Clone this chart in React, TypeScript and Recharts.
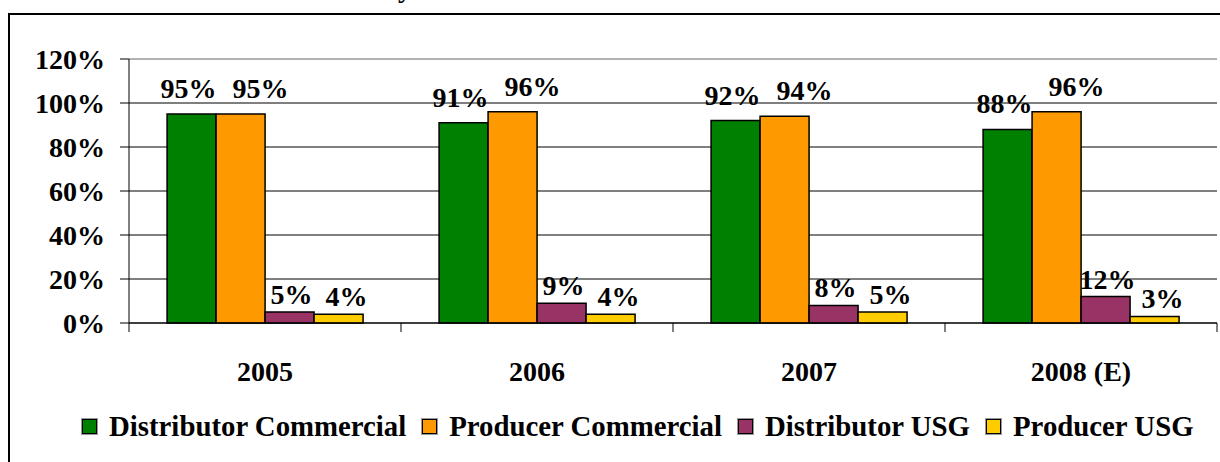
import React from "react";
import { Bar, BarChart, CartesianGrid, LabelList, ReferenceLine, XAxis, YAxis } from "recharts";

const years = ["2005", "2006", "2007", "2008 (E)"];
const distributorCommercial = [95, 91, 92, 88];
const producerCommercial = [95, 96, 94, 96];
const distributorUSG = [5, 9, 8, 12];
const producerUSG = [4, 4, 5, 3];
const yTicks = [0, 20, 40, 60, 80, 100, 120];

// label nudges keep neighbouring labels apart, like the original
const SERIES = [
  { key: "distCom", name: "Distributor Commercial", color: "#008000", dx: -3, offset: 16 },
  { key: "prodCom", name: "Producer Commercial", color: "#FF9900", dx: 20, offset: 16 },
  { key: "distUSG", name: "Distributor USG", color: "#993366", dx: 2, offset: 8 },
  { key: "prodUSG", name: "Producer USG", color: "#FFCC00", dx: 8, offset: 8 },
];

const data = years.map((year, i) => ({
  year,
  distCom: distributorCommercial[i],
  prodCom: producerCommercial[i],
  distUSG: distributorUSG[i],
  prodUSG: producerUSG[i],
}));

const FONT = "'Liberation Serif', 'Times New Roman', serif";
const W = 1220;
const H = 462;
const MARGIN = { top: 59, right: 3, bottom: 79, left: 0 };
const Y_W = 129;
const BAND = (W - MARGIN.right - MARGIN.left - Y_W) / years.length;

const YearTick = (props: any) => {
  const { x, y, payload, index } = props;
  const half = BAND / 2;
  return (
    <g>
      <line x1={x - half} x2={x - half} y1={y} y2={y + 9} stroke="#000" />
      {index === years.length - 1 && (
        <line x1={x + half} x2={x + half} y1={y} y2={y + 9} stroke="#000" />
      )}
      <text
        x={x}
        y={y + 38}
        dy="0.71em"
        textAnchor="middle"
        fontSize={28}
        fontWeight="bold"
        fontFamily={FONT}
        fill="#000"
      >
        {payload.value}
      </text>
    </g>
  );
};

export default function App() {
  return (
    <div style={{ position: "absolute", top: 0, left: 0, width: W, height: H, overflow: "hidden", background: "#fff" }}>
      <div
        style={{
          position: "absolute",
          left: 398,
          top: -28,
          fontFamily: FONT,
          fontSize: 28,
          fontWeight: "bold",
        }}
      >
        y
      </div>
      <div
        style={{
          position: "absolute",
          left: 8,
          top: 13,
          width: W,
          height: H,
          borderLeft: "2px solid #000",
          borderTop: "2px solid #000",
        }}
      />
      <div style={{ position: "absolute", top: 0, left: 0 }}>
        <BarChart
          width={W}
          height={H}
          data={data}
          margin={MARGIN}
          barCategoryGap="14%"
          barGap={0}
        >
          <CartesianGrid vertical={false} stroke="#000" strokeWidth={1} />
          <ReferenceLine y={120} stroke="#e4e4e4" strokeWidth={1} />
          <XAxis
            dataKey="year"
            axisLine={{ stroke: "#000" }}
            tickLine={false}
            tickSize={0}
            tickMargin={0}
            height={60}
            interval={0}
            tick={<YearTick />}
          />
          <YAxis
            width={Y_W}
            domain={[0, 120]}
            ticks={yTicks}
            interval={0}
            tickFormatter={(v: number) => `${v}%`}
            axisLine={{ stroke: "#000" }}
            tickLine={{ stroke: "#000" }}
            tickSize={9}
            tickMargin={15}
            tick={{ fontSize: 28, fontWeight: "bold", fill: "#000", fontFamily: FONT }}
          />
          {SERIES.map((s) => (
            <Bar
              key={s.key}
              dataKey={s.key}
              name={s.name}
              fill={s.color}
              stroke="#000"
              strokeWidth={1.5}
              isAnimationActive={false}
            >
              <LabelList
                dataKey={s.key}
                position="top"
                offset={s.offset}
                dx={s.dx}
                formatter={(v: any) => `${v}%`}
                style={{ fontSize: 28, fontWeight: "bold", fill: "#000", fontFamily: FONT }}
              />
            </Bar>
          ))}
        </BarChart>
      </div>
      <div
        style={{
          position: "absolute",
          left: 82,
          top: 410,
          display: "flex",
          alignItems: "center",
          fontFamily: FONT,
          fontSize: 28.8,
          fontWeight: "bold",
          color: "#000",
          whiteSpace: "nowrap",
        }}
      >
        {SERIES.map((s) => (
          <div key={s.key} style={{ display: "flex", alignItems: "center", marginRight: 16 }}>
            <div
              style={{
                width: 13,
                height: 13,
                background: s.color,
                border: "1.5px solid #000",
                boxShadow: "0 0 0 1px #999",
                marginRight: 12,
              }}
            />
            <span>{s.name}</span>
          </div>
        ))}
      </div>
    </div>
  );
}
